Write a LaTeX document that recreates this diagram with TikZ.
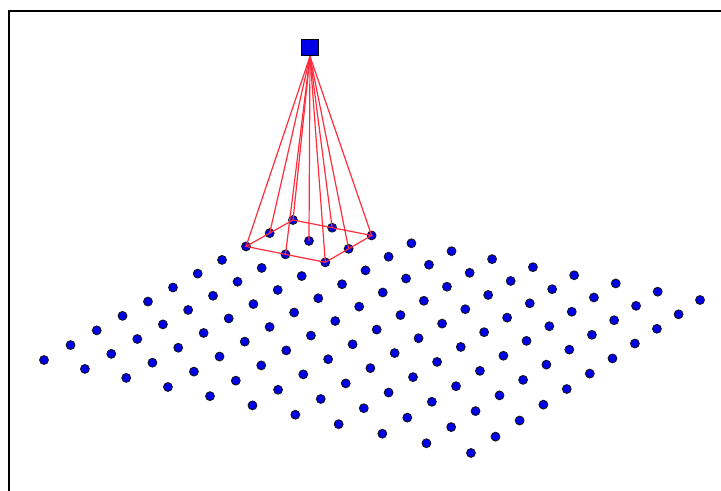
\documentclass[tikz,border=0pt]{standalone}
\usepackage{xcolor}
\usepackage{tikz}
\usetikzlibrary{positioning}
\definecolor{dotblue}{RGB}{0,0,230}
\definecolor{linkred}{RGB}{255,45,60}
\definecolor{edgedark}{RGB}{20,20,40}
\tikzset{
  dot/.style={circle, draw=edgedark, fill=dotblue, inner sep=0pt,
    minimum size=6.6pt, line width=0.7pt},
  unit/.style={rectangle, draw=black, fill=dotblue, inner sep=0pt,
    minimum size=12.5pt, line width=0.8pt},
  link/.style={color=linkred, line width=0.9pt},
  frame/.style={line width=1.8pt, color=black}
}

\begin{document}
\begin{tikzpicture}[x=0.75pt, y=-0.75pt]
  \useasboundingbox (0,0) rectangle (721,490);
  \clip (0,0) rectangle (721,490);

  % Frame
  \draw[frame] (9,11) rectangle (760,530);

  % Input grid (11 x 11, in perspective)
  \foreach \i in {0,...,10}
    \foreach \j in {0,...,10} {
      \pgfmathsetmacro\u{\i/10}
      \pgfmathsetmacro\v{\j/10}
      \pgfmathsetmacro\w{1+0.07491*\u-0.0458*\v}
      \pgfmathsetmacro\px{(270.95*\u+405.43*\v+44)/\w}
      \pgfmathsetmacro\py{(-123.52*\u+72.25*\v+360)/\w}
      \node[dot] (d-\i-\j) at (\px,\py) {};
    }

  % Output unit
  \node[unit] (src) at (310,47.5) {};

  % Receptive field
  \draw[link] (d-8-0.center) -- (d-10-0.center) -- (d-10-2.center)
    -- (d-8-2.center) -- cycle;
  \foreach \i in {8,9,10}
    \foreach \j in {0,1,2}
      \draw[link] (src.south) -- (d-\i-\j.center);
\end{tikzpicture}
\end{document}
